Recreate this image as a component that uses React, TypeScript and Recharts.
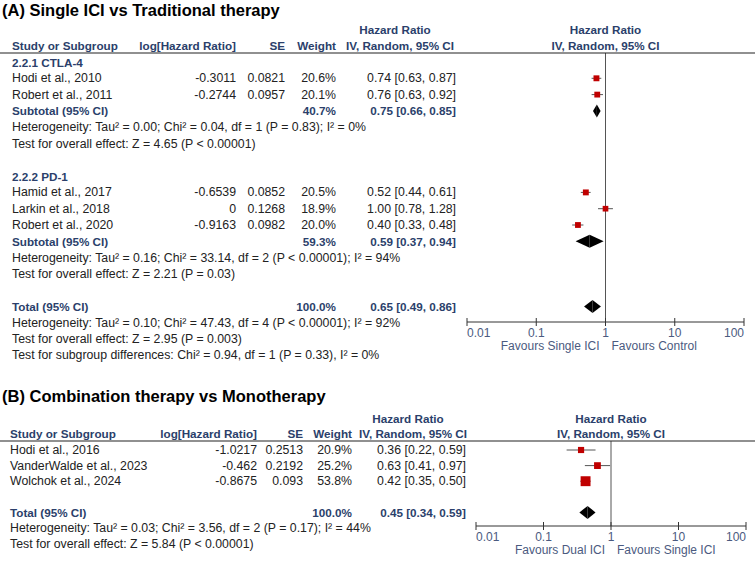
import React from "react";
import { ScatterChart, Scatter, XAxis, YAxis, ErrorBar, ReferenceLine, ReferenceArea } from "recharts";

const FONT = "'Liberation Sans', Arial, sans-serif";
const HEAD = "#2b3f6b";
const INK = "#222";
const AXIS_INK = "#4b5a80";

const hrTicks = [0.01, 0.1, 1, 10, 100];

// (A) Single ICI vs Traditional therapy
const groupsA = [
  { row: 0, label: "2.2.1 CTLA-4" },
  { row: 7, label: "2.2.2 PD-1" },
];
const studiesA = [
  { row: 1, name: "Hodi et al., 2010", logHR: "-0.3011", se: "0.0821", weight: 20.6, hr: 0.74, lo: 0.63, hi: 0.87 },
  { row: 2, name: "Robert et al., 2011", logHR: "-0.2744", se: "0.0957", weight: 20.1, hr: 0.76, lo: 0.63, hi: 0.92 },
  { row: 8, name: "Hamid et al., 2017", logHR: "-0.6539", se: "0.0852", weight: 20.5, hr: 0.52, lo: 0.44, hi: 0.61 },
  { row: 9, name: "Larkin et al., 2018", logHR: "0", se: "0.1268", weight: 18.9, hr: 1.0, lo: 0.78, hi: 1.28 },
  { row: 10, name: "Robert et al., 2020", logHR: "-0.9163", se: "0.0982", weight: 20.0, hr: 0.4, lo: 0.33, hi: 0.48 },
];
const pooledA = [
  { row: 3, name: "Subtotal (95% CI)", weight: 40.7, hr: 0.75, lo: 0.66, hi: 0.85 },
  { row: 11, name: "Subtotal (95% CI)", weight: 59.3, hr: 0.59, lo: 0.37, hi: 0.94 },
  { row: 15, name: "Total (95% CI)", weight: 100.0, hr: 0.65, lo: 0.49, hi: 0.86 },
];
const notesA = [
  { row: 4, text: "Heterogeneity: Tau² = 0.00; Chi² = 0.04, df = 1 (P = 0.83); I² = 0%" },
  { row: 5, text: "Test for overall effect: Z = 4.65 (P < 0.00001)" },
  { row: 12, text: "Heterogeneity: Tau² = 0.16; Chi² = 33.14, df = 2 (P < 0.00001); I² = 94%" },
  { row: 13, text: "Test for overall effect: Z = 2.21 (P = 0.03)" },
  { row: 16, text: "Heterogeneity: Tau² = 0.10; Chi² = 47.43, df = 4 (P < 0.00001); I² = 92%" },
  { row: 17, text: "Test for overall effect: Z = 2.95 (P = 0.003)" },
  { row: 18, text: "Test for subgroup differences: Chi² = 0.94, df = 1 (P = 0.33), I² = 0%" },
];

// (B) Combination therapy vs Monotherapy
const studiesB = [
  { row: 0, name: "Hodi et al., 2016", logHR: "-1.0217", se: "0.2513", weight: 20.9, hr: 0.36, lo: 0.22, hi: 0.59 },
  { row: 1, name: "VanderWalde et al., 2023", logHR: "-0.462", se: "0.2192", weight: 25.2, hr: 0.63, lo: 0.41, hi: 0.97 },
  { row: 2, name: "Wolchok et al., 2024", logHR: "-0.8675", se: "0.093", weight: 53.8, hr: 0.42, lo: 0.35, hi: 0.5 },
];
const pooledB = [{ row: 4, name: "Total (95% CI)", weight: 100.0, hr: 0.45, lo: 0.34, hi: 0.59 }];
const notesB = [
  { row: 5, text: "Heterogeneity: Tau² = 0.03; Chi² = 3.56, df = 2 (P = 0.17); I² = 44%" },
  { row: 6, text: "Test for overall effect: Z = 5.84 (P < 0.00001)" },
];

type Layout = {
  title: string; top: number; titleY: number; head1Y: number; head2Y: number; ruleY: number;
  y0: number; lineH: number; axisY: number; plotLeft: number; plotRight: number;
  nameX: number; logX: number; seX: number; wX: number; ciX: number; hrHeadX: number;
  favours: [string, string]; squareK: number;
};

const ci = (d: { hr: number; lo: number; hi: number }) =>
  `${d.hr.toFixed(2)} [${d.lo.toFixed(2)}, ${d.hi.toFixed(2)}]`;

function Forest({ L, groups, studies, pooled, notes }: { L: Layout; groups: any[]; studies: any[]; pooled: any[]; notes: any[] }) {
  const W = 756;
  const height = L.axisY - L.top + 40;
  const domain = [(L.ruleY - L.y0) / L.lineH, (L.axisY - L.y0) / L.lineH];
  const rowY = (r: number) => L.y0 + r * L.lineH;
  const half = 6.5 / L.lineH;
  const data = studies.map((s) => ({ ...s, err: [s.hr - s.lo, s.hi - s.hr] }));
  const plotMid = (L.plotLeft + L.plotRight) / 2;

  const tick = (p: any) => {
    const { x, y, payload, index } = p;
    const ay = y - 6;
    const anchor = index === 0 ? "start" : index === hrTicks.length - 1 ? "end" : "middle";
    return (
      <g>
        <line x1={x} x2={x} y1={ay - 4} y2={ay + 4} stroke="#333" />
        <text x={x} y={ay + 11} textAnchor={anchor} dominantBaseline="central" fontSize={12} fill={AXIS_INK} fontFamily={FONT}>
          {String(payload.value)}
        </text>
        {payload.value === 1 && (
          <>
            <text x={x - 6} y={ay + 24} textAnchor="end" dominantBaseline="central" fontSize={12} fill={AXIS_INK} fontFamily={FONT}>{L.favours[0]}</text>
            <text x={x + 6} y={ay + 24} textAnchor="start" dominantBaseline="central" fontSize={12} fill={AXIS_INK} fontFamily={FONT}>{L.favours[1]}</text>
          </>
        )}
      </g>
    );
  };

  const txt = (x: number, y: number, s: string, o: any = {}) => (
    <text x={x} y={y} dominantBaseline="central" fontSize={12.3} fontFamily={FONT} fill={INK} {...o}>{s}</text>
  );
  const bold = { fontWeight: "bold", fill: HEAD, fontSize: 11.7 };

  return (
    <>
      <div style={{ position: "absolute", left: 0, top: L.top }}>
        <ScatterChart width={W} height={height} margin={{ top: L.ruleY - L.top, left: L.plotLeft, right: W - L.plotRight, bottom: 0 }}>
          <XAxis type="number" dataKey="hr" scale="log" domain={[0.01, 100]} ticks={hrTicks} allowDataOverflow
            height={40} tickSize={4} tickMargin={2} tickLine={false} axisLine={{ stroke: "#333" }} tick={tick} interval={0} />
          <YAxis type="number" dataKey="row" domain={domain} reversed hide allowDataOverflow />
          <ReferenceLine x={1} stroke="#555" />
          {pooled.map((p, i) => (
            <ReferenceArea key={"l" + i} x1={p.lo} x2={p.hr} y1={p.row - half} y2={p.row + half}
              shape={(s: any) => <polygon points={`${s.x},${s.y + s.height / 2} ${s.x + s.width},${s.y} ${s.x + s.width},${s.y + s.height}`} fill="#000" />} />
          ))}
          {pooled.map((p, i) => (
            <ReferenceArea key={"r" + i} x1={p.hr} x2={p.hi} y1={p.row - half} y2={p.row + half}
              shape={(s: any) => <polygon points={`${s.x},${s.y} ${s.x + s.width},${s.y + s.height / 2} ${s.x},${s.y + s.height}`} fill="#000" />} />
          ))}
          <Scatter data={data} isAnimationActive={false}
            shape={(p: any) => {
              const side = L.squareK * Math.sqrt(p.payload.weight);
              return <rect x={p.cx - side / 2} y={p.cy - side / 2} width={side} height={side} fill="#c00000" />;
            }}>
            <ErrorBar dataKey="err" direction="x" width={0} stroke="#555" strokeWidth={1} isAnimationActive={false} />
          </Scatter>
        </ScatterChart>
      </div>
      <svg width={W} height={height + 30} style={{ position: "absolute", left: 0, top: 0, pointerEvents: "none", overflow: "visible" }}>
        {txt(2, L.titleY, L.title, { fontWeight: "bold", fontSize: 16.5, fill: "#000" })}
        {txt(L.hrHeadX, L.head1Y, "Hazard Ratio", { ...bold, textAnchor: "middle" })}
        {txt(plotMid, L.head1Y, "Hazard Ratio", { ...bold, textAnchor: "middle" })}
        {txt(L.nameX, L.head2Y, "Study or Subgroup", bold)}
        {txt(L.logX, L.head2Y, "log[Hazard Ratio]", { ...bold, textAnchor: "end" })}
        {txt(L.seX, L.head2Y, "SE", { ...bold, textAnchor: "end" })}
        {txt(L.wX, L.head2Y, "Weight", { ...bold, textAnchor: "end" })}
        {txt(L.hrHeadX + 5, L.head2Y, "IV, Random, 95% CI", { ...bold, textAnchor: "middle" })}
        {txt(plotMid, L.head2Y, "IV, Random, 95% CI", { ...bold, textAnchor: "middle" })}
        <line x1={0} x2={755} y1={L.ruleY} y2={L.ruleY} stroke="#222" strokeWidth={1.2} />
        {groups.map((g) => <React.Fragment key={g.label}>{txt(L.nameX, rowY(g.row), g.label, bold)}</React.Fragment>)}
        {studies.map((s) => (
          <React.Fragment key={s.name}>
            {txt(L.nameX, rowY(s.row), s.name)}
            {txt(L.logX, rowY(s.row), s.logHR, { textAnchor: "end" })}
            {txt(L.seX, rowY(s.row), s.se, { textAnchor: "end" })}
            {txt(L.wX, rowY(s.row), s.weight.toFixed(1) + "%", { textAnchor: "end" })}
            {txt(L.ciX, rowY(s.row), ci(s), { textAnchor: "end" })}
          </React.Fragment>
        ))}
        {pooled.map((p) => (
          <React.Fragment key={p.row}>
            {txt(L.nameX, rowY(p.row), p.name, bold)}
            {txt(L.wX, rowY(p.row), p.weight.toFixed(1) + "%", { ...bold, textAnchor: "end" })}
            {txt(L.ciX, rowY(p.row), ci(p), { ...bold, textAnchor: "end" })}
          </React.Fragment>
        ))}
        {notes.map((n) => <React.Fragment key={n.row}>{txt(L.nameX, rowY(n.row), n.text)}</React.Fragment>)}
      </svg>
    </>
  );
}

const layoutA: Layout = {
  title: "(A) Single ICI vs Traditional therapy", top: 0, titleY: 10, head1Y: 29, head2Y: 45, ruleY: 53,
  y0: 62, lineH: 16.3, axisY: 322, plotLeft: 467, plotRight: 744,
  nameX: 12, logX: 236, seX: 285, wX: 336, ciX: 456, hrHeadX: 395,
  favours: ["Favours Single ICI", "Favours Control"], squareK: 1.3,
};
const layoutB: Layout = {
  title: "(B) Combination therapy vs Monotherapy", top: 360, titleY: 396, head1Y: 418, head2Y: 433, ruleY: 441,
  y0: 450, lineH: 15.6, axisY: 526, plotLeft: 476, plotRight: 746,
  nameX: 10, logX: 257, seX: 303, wX: 352, ciX: 466, hrHeadX: 408,
  favours: ["Favours Dual ICI", "Favours Single ICI"], squareK: 1.35,
};

export default function App() {
  return (
    <div style={{ position: "absolute", left: 0, top: 0, width: 756, height: 565, background: "#fff", overflow: "hidden" }}>
      <Forest L={layoutA} groups={groupsA} studies={studiesA} pooled={pooledA} notes={notesA} />
      <Forest L={layoutB} groups={[]} studies={studiesB} pooled={pooledB} notes={notesB} />
    </div>
  );
}
